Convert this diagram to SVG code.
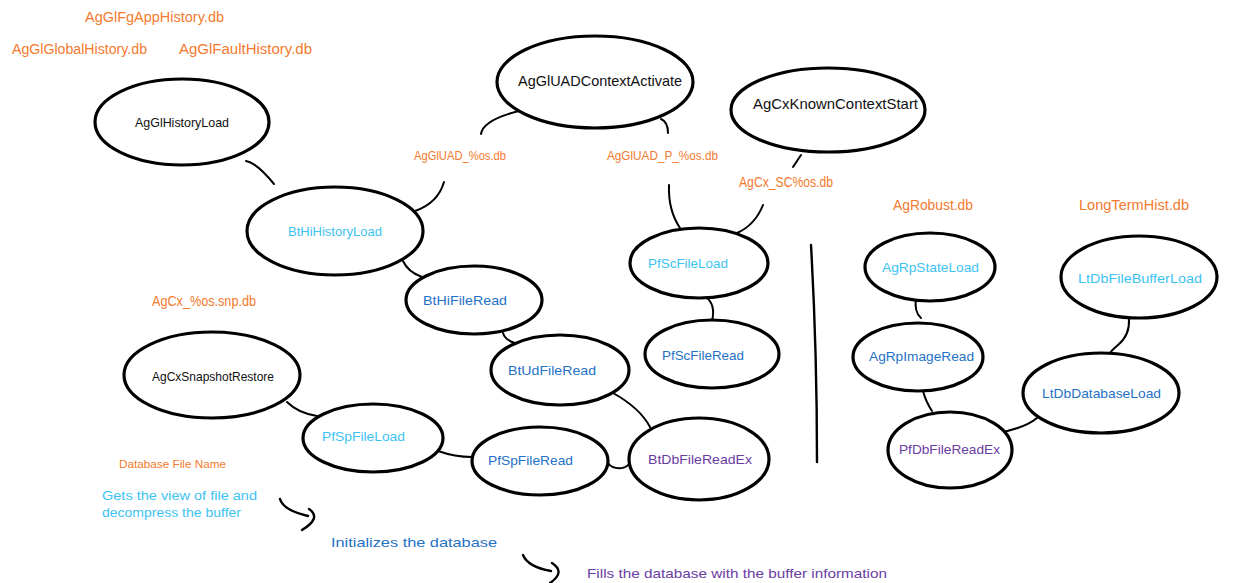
<svg xmlns="http://www.w3.org/2000/svg" width="1245" height="583" viewBox="0 0 1245 583">
<style>
  .node ellipse { fill: #ffffff; stroke: #000000; stroke-width: 3.2; }
  .conn path { fill: none; stroke: #000000; stroke-width: 2; stroke-linecap: round; }
  text { font-family: "Liberation Sans", "DejaVu Sans", sans-serif; text-anchor: start; }
  .blk { fill: #111111; font-size: 13px; }
  .big { fill: #111111; font-size: 15px; }
  .org { fill: #F47A2E; font-size: 14px; }
  .orgs { fill: #F47A2E; font-size: 12px; }
  .lb { fill: #3EC3F3; font-size: 13px; }
  .mb { fill: #1F72C6; font-size: 13px; }
  .pu { fill: #6A3DA2; font-size: 13px; }
</style>
<rect width="1245" height="583" fill="#ffffff"/>

<g id="connectors" class="conn">
  <path d="M246,161 Q257,163 274,184"/>
  <path d="M519,111 Q483,120 481,134"/>
  <path d="M661,119 Q668,122 668,133"/>
  <path d="M801,155 L793,167"/>
  <path d="M444,182 Q438,203 415,211"/>
  <path d="M669,185 Q668,210 680,228"/>
  <path d="M763,205 Q755,225 737,233"/>
  <path d="M403,261 Q408,272 422,277"/>
  <path d="M503,333 Q505,340 515,343"/>
  <path d="M613,393 Q640,408 650,427"/>
  <path d="M706,297 Q716,305 712,321"/>
  <path d="M287,402 Q298,413 317,416"/>
  <path d="M438,451 Q455,457 472,457"/>
  <path d="M608,463 Q612,469 622,468 Q628,467 630,462"/>
  <path d="M916,298 Q914,312 921,318"/>
  <path d="M923,391 Q926,402 932,411"/>
  <path d="M998,433 Q1025,428 1037,418"/>
  <path d="M1129,319 Q1130,335 1118,345 Q1112,350 1110,353"/>
  <path d="M811,245 Q817,350 817,462" style="stroke-width:2.4"/>
  <path d="M280,499 Q283,510 308,516" style="stroke-width:2.4"/>
  <path d="M309,509 Q322,518 302,530" style="stroke-width:2.4"/>
  <path d="M523,555 Q528,567 551,571" style="stroke-width:2.4"/>
  <path d="M552,563 Q566,572 550,583" style="stroke-width:2.4"/>
</g>

<g id="n-AgGlHistoryLoad" class="node">
  <ellipse cx="182" cy="122" rx="87" ry="43"/>
  <text class="blk" x="135" y="127" textLength="94" lengthAdjust="spacingAndGlyphs">AgGlHistoryLoad</text>
</g>
<g id="n-AgGlUADContextActivate" class="node">
  <ellipse cx="595" cy="82" rx="98" ry="46"/>
  <text class="big" x="518" y="86" textLength="164" lengthAdjust="spacingAndGlyphs">AgGlUADContextActivate</text>
</g>
<g id="n-AgCxKnownContextStart" class="node">
  <ellipse cx="828" cy="110" rx="97" ry="42"/>
  <text class="big" x="753" y="109" textLength="165" lengthAdjust="spacingAndGlyphs">AgCxKnownContextStart</text>
</g>
<g id="n-BtHiHistoryLoad" class="node">
  <ellipse cx="335" cy="231" rx="88" ry="44"/>
  <text class="lb" x="288" y="236" textLength="94" lengthAdjust="spacingAndGlyphs">BtHiHistoryLoad</text>
</g>
<g id="n-BtHiFileRead" class="node">
  <ellipse cx="474" cy="300" rx="68" ry="34"/>
  <text class="mb" x="423" y="305" textLength="84" lengthAdjust="spacingAndGlyphs">BtHiFileRead</text>
</g>
<g id="n-BtUdFileRead" class="node">
  <ellipse cx="560" cy="370" rx="69" ry="35"/>
  <text class="mb" x="508" y="375" textLength="88" lengthAdjust="spacingAndGlyphs">BtUdFileRead</text>
</g>
<g id="n-PfScFileLoad" class="node">
  <ellipse cx="699" cy="263" rx="69" ry="35"/>
  <text class="lb" x="648" y="268" textLength="80" lengthAdjust="spacingAndGlyphs">PfScFileLoad</text>
</g>
<g id="n-PfScFileRead" class="node">
  <ellipse cx="712" cy="354" rx="67" ry="34"/>
  <text class="mb" x="662" y="360" textLength="82" lengthAdjust="spacingAndGlyphs">PfScFileRead</text>
</g>
<g id="n-BtDbFileReadEx" class="node">
  <ellipse cx="699" cy="459" rx="70" ry="41"/>
  <text class="pu" x="648" y="464" textLength="104" lengthAdjust="spacingAndGlyphs">BtDbFileReadEx</text>
</g>
<g id="n-PfSpFileRead" class="node">
  <ellipse cx="540" cy="461" rx="68" ry="34"/>
  <text class="mb" x="488" y="465" textLength="85" lengthAdjust="spacingAndGlyphs">PfSpFileRead</text>
</g>
<g id="n-PfSpFileLoad" class="node">
  <ellipse cx="373" cy="438" rx="70" ry="34"/>
  <text class="lb" x="322" y="441" textLength="83" lengthAdjust="spacingAndGlyphs">PfSpFileLoad</text>
</g>
<g id="n-AgCxSnapshotRestore" class="node">
  <ellipse cx="212" cy="375" rx="88" ry="43"/>
  <text class="blk" x="152" y="381" textLength="122" lengthAdjust="spacingAndGlyphs">AgCxSnapshotRestore</text>
</g>
<g id="n-AgRpStateLoad" class="node">
  <ellipse cx="930" cy="267" rx="65" ry="34"/>
  <text class="lb" x="882" y="272" textLength="97" lengthAdjust="spacingAndGlyphs">AgRpStateLoad</text>
</g>
<g id="n-AgRpImageRead" class="node">
  <ellipse cx="918" cy="357" rx="65" ry="34"/>
  <text class="mb" x="869" y="361" textLength="105" lengthAdjust="spacingAndGlyphs">AgRpImageRead</text>
</g>
<g id="n-PfDbFileReadEx" class="node">
  <ellipse cx="950" cy="450" rx="62" ry="38"/>
  <text class="pu" x="899" y="454" textLength="101" lengthAdjust="spacingAndGlyphs">PfDbFileReadEx</text>
</g>
<g id="n-LtDbFileBufferLoad" class="node">
  <ellipse cx="1139" cy="277" rx="78" ry="41"/>
  <text class="lb" x="1078" y="283" textLength="124" lengthAdjust="spacingAndGlyphs">LtDbFileBufferLoad</text>
</g>
<g id="n-LtDbDatabaseLoad" class="node">
  <ellipse cx="1101" cy="393" rx="78" ry="40"/>
  <text class="mb" x="1042" y="398" textLength="119" lengthAdjust="spacingAndGlyphs">LtDbDatabaseLoad</text>
</g>

<g id="labels">
  <text class="org" x="85" y="22" textLength="139" lengthAdjust="spacingAndGlyphs">AgGlFgAppHistory.db</text>
  <text class="org" x="12" y="54" textLength="135" lengthAdjust="spacingAndGlyphs">AgGlGlobalHistory.db</text>
  <text class="org" x="179" y="54" textLength="133" lengthAdjust="spacingAndGlyphs">AgGlFaultHistory.db</text>
  <text class="orgs" x="414" y="160" textLength="92" lengthAdjust="spacingAndGlyphs">AgGlUAD_%os.db</text>
  <text class="orgs" x="607" y="160" textLength="111" lengthAdjust="spacingAndGlyphs">AgGlUAD_P_%os.db</text>
  <text class="org" x="739" y="187" textLength="94" lengthAdjust="spacingAndGlyphs">AgCx_SC%os.db</text>
  <text class="org" x="152" y="306" textLength="104" lengthAdjust="spacingAndGlyphs">AgCx_%os.snp.db</text>
  <text class="org" x="893" y="210" textLength="80" lengthAdjust="spacingAndGlyphs">AgRobust.db</text>
  <text class="org" x="1079" y="210" textLength="110" lengthAdjust="spacingAndGlyphs">LongTermHist.db</text>
  <text class="orgs" x="119" y="468" style="font-size:11px" textLength="107" lengthAdjust="spacingAndGlyphs">Database File Name</text>
  <text class="lb" x="102" y="500" textLength="155" lengthAdjust="spacingAndGlyphs">Gets the view of file and</text>
  <text class="lb" x="102" y="517" textLength="139" lengthAdjust="spacingAndGlyphs">decompress the buffer</text>
  <text class="mb" x="331" y="547" textLength="166" lengthAdjust="spacingAndGlyphs">Initializes the database</text>
  <text class="pu" x="587" y="578" textLength="300" lengthAdjust="spacingAndGlyphs">Fills the database with the buffer information</text>
</g>
</svg>
